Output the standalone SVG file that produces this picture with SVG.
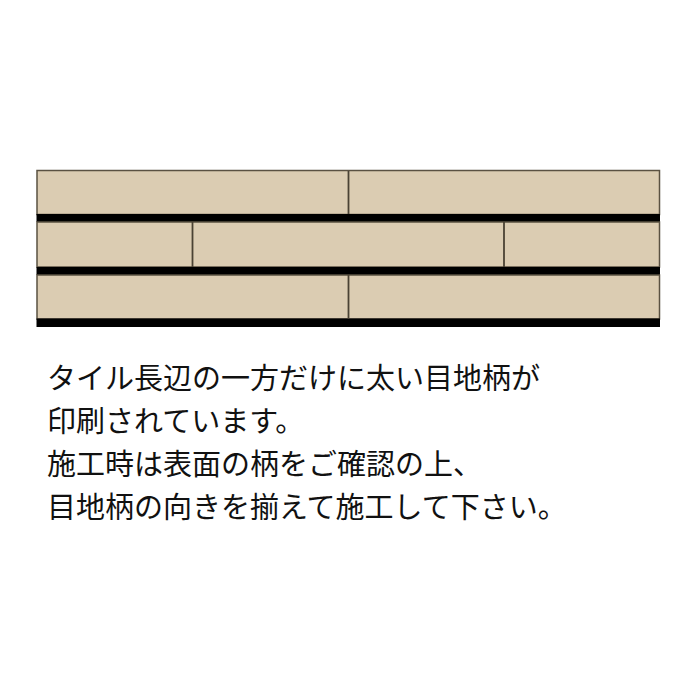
<svg xmlns="http://www.w3.org/2000/svg" width="700" height="700" viewBox="0 0 700 700">
<style>
.tile{fill:#dbccb2;stroke:#5a5142;stroke-width:1.5}
.band{fill:#000}
.joint{stroke:#4a4234;stroke-width:1.8}
.txt{font-family:"Noto Sans CJK JP","Noto Sans CJK SC",sans-serif;font-size:29px;fill:#111}
</style>
<rect width="700" height="700" fill="#fff"/>
<g id="tiles">
<rect class="tile" x="37" y="170.5" width="622.5" height="44"/>
<rect class="band" x="36.5" y="214" width="623.5" height="8"/>
<rect class="tile" x="37" y="222" width="622.5" height="45"/>
<rect class="band" x="36.5" y="267" width="623.5" height="8"/>
<rect class="tile" x="37" y="275" width="622.5" height="44"/>
<rect class="band" x="36.5" y="318.5" width="623.5" height="8.5"/>
</g>
<g id="joints">
<line class="joint" x1="348.5" y1="171" x2="348.5" y2="214"/>
<line class="joint" x1="192.5" y1="222" x2="192.5" y2="267"/>
<line class="joint" x1="504" y1="222" x2="504" y2="267"/>
<line class="joint" x1="348.5" y1="275" x2="348.5" y2="318.5"/>
</g>
<g id="caption">
<text class="txt" x="47" y="389">タイル長辺の一方だけに太い目地柄が</text>
<text class="txt" x="47" y="432">印刷されています。</text>
<text class="txt" x="47" y="475">施工時は表面の柄をご確認の上、</text>
<text class="txt" x="47" y="518">目地柄の向きを揃えて施工して下さい。</text>
</g>
</svg>
